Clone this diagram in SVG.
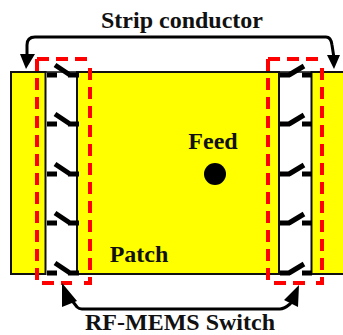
<svg xmlns="http://www.w3.org/2000/svg" width="343" height="335" viewBox="0 0 343 335">
<style>
.s{fill:#ffff00;stroke:#111;stroke-width:2}
.t{font-family:"Liberation Serif",serif;font-weight:700;font-size:24px;fill:#111}
.r{fill:none;stroke:#ff0000;stroke-width:4;stroke-dasharray:12 7}
.w{fill:none;stroke:#000;stroke-width:5}
.a{fill:none;stroke:#000;stroke-width:3}
</style>
<defs>
<g id="swl"><path class="w" d="M47 0H57M68 0H79M55 -10L70 0"/></g>
<g id="swr"><path class="w" d="M280 0H290M302 0H312M289 0L304 -9"/></g>
</defs>
<rect width="343" height="335" fill="#fff"/>
<g id="left-strip"><rect class="s" x="11" y="72" width="34.500" height="202"/></g>
<g id="patch"><rect class="s" x="77" y="72" width="202" height="202"/></g>
<g id="right-strip"><path class="s" d="M344 72H311.500V274H344"/></g>
<g id="gap-lines"><path d="M279 72H312M45 72H77" stroke="#111" stroke-width="1.500"/></g>
<g id="switches-left">
<use href="#swl" y="75"/><use href="#swl" y="124"/><use href="#swl" y="174"/><use href="#swl" y="223"/><use href="#swl" y="273"/>
</g>
<g id="switches-right">
<use href="#swr" y="75"/><use href="#swr" y="124"/><use href="#swr" y="174"/><use href="#swr" y="223"/><use href="#swr" y="273"/>
</g>
<g id="feed"><circle cx="215" cy="174" r="11" fill="#000"/><text class="t" x="213" y="149" text-anchor="middle">Feed</text></g>
<g id="patch-label"><text class="t" x="139" y="262" text-anchor="middle">Patch</text></g>
<g id="highlight-left"><path class="r" d="M37 59H90"/><path class="r" d="M90 68V283H78"/><path class="r" d="M37 59V283"/><path class="r" d="M42 283H72"/></g>
<g id="highlight-right"><path class="r" d="M268 59H322"/><path class="r" d="M322 68V283H310"/><path class="r" d="M268 59V281"/><path class="r" d="M274 283H306"/></g>
<g id="connectors">
<path class="a" d="M27 58V45Q27 37 35 37H326Q331 37 332 45L334 58"/>
<path d="M20 54H35L26 69Z M327 55H340L334 69Z" fill="#000"/>
<path class="a" d="M70 298L77 307Q79 309 82 309H280Q284 309 290 304L294 300"/>
<path d="M62 283L77 301L62 307Z M299 285L298 307L284 300Z" fill="#000"/>
</g>
<g id="labels">
<text class="t" x="182" y="28" text-anchor="middle">Strip conductor</text>
<text class="t" x="180" y="330" text-anchor="middle">RF-MEMS Switch</text>
</g>
</svg>
